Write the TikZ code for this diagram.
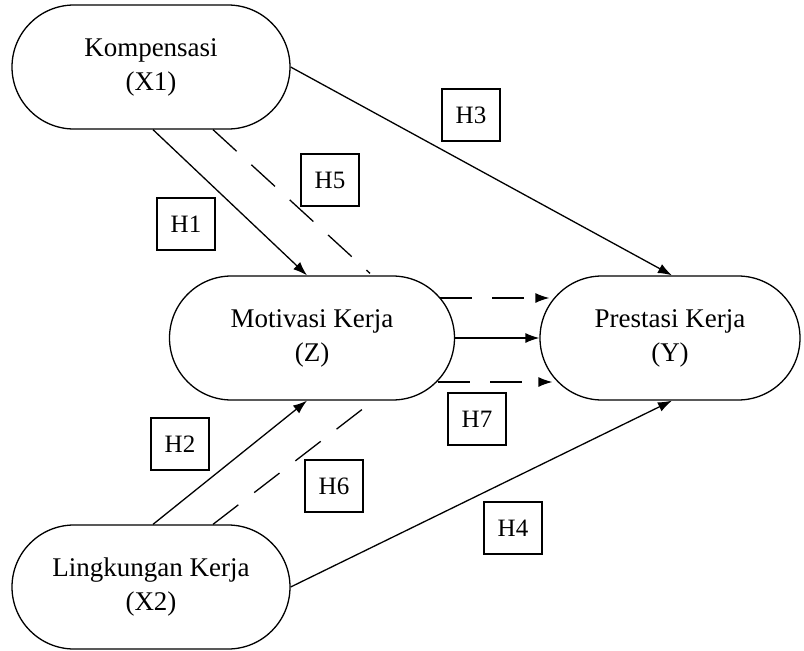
\documentclass[tikz,border=0pt]{standalone}
\usepackage{fontspec}
\setmainfont{Liberation Serif}
\usetikzlibrary{shapes.misc,arrows.meta}
\begin{document}
\begin{tikzpicture}[x=1pt,y=-1pt,
  line width=1.3pt,
  var/.style={draw, rounded rectangle, minimum height=124pt, align=center,
    font=\fontsize{27}{34}\selectfont, inner sep=0pt},
  hlabel/.style={draw, line width=1.3pt, minimum width=58pt, minimum height=52pt,
    inner sep=0pt, font=\fontsize{25}{30}\selectfont},
  arr/.style={-{Latex[length=14pt,width=10pt]}},
  dsh/.style={dash pattern=on 32pt off 20pt}
]
\useasboundingbox (0,0) rectangle (804,651);
\node[var, minimum width=278pt] (k) at (151,67) {Kompensasi\\(X1)};
\node[var, minimum width=285pt] (z) at (312,338) {Motivasi Kerja\\(Z)};
\node[var, minimum width=260pt] (y) at (670,338) {Prestasi Kerja\\(Y)};
\node[var, minimum width=278pt] (l) at (151,587) {Lingkungan Kerja\\(X2)};

\draw[arr] ([shift={(2,0)}]k.south) -- ([shift={(-5,0)}]z.north);
\draw[dsh] ([shift={(62,0)}]k.south) -- ([shift={(58,-2)}]z.north);
\draw[arr] (k.east) -- ([shift={(2,0)}]y.north);
\draw[arr, dsh] ([shift={(-15,-40)}]z.east) -- ([shift={(10,-40)}]y.west);
\draw[arr] (z.east) -- (y.west);
\draw[arr, dsh] ([shift={(-17,44)}]z.east) -- ([shift={(13,44)}]y.west);
\draw[arr] ([shift={(2,0)}]l.north) -- ([shift={(-5,0)}]z.south);
\draw[dsh] ([shift={(62,0)}]l.north) -- ([shift={(55,5)}]z.south);
\draw[arr] (l.east) -- ([shift={(2,0)}]y.south);

\node[hlabel] (h1) at (186,224) {H1};
\node[hlabel] (h5) at (330,180) {H5};
\node[hlabel] (h3) at (471,115) {H3};
\node[hlabel] (h2) at (180,444) {H2};
\node[hlabel] (h6) at (334,486) {H6};
\node[hlabel] (h7) at (477,419) {H7};
\node[hlabel] (h4) at (513,528) {H4};
\end{tikzpicture}
\end{document}
